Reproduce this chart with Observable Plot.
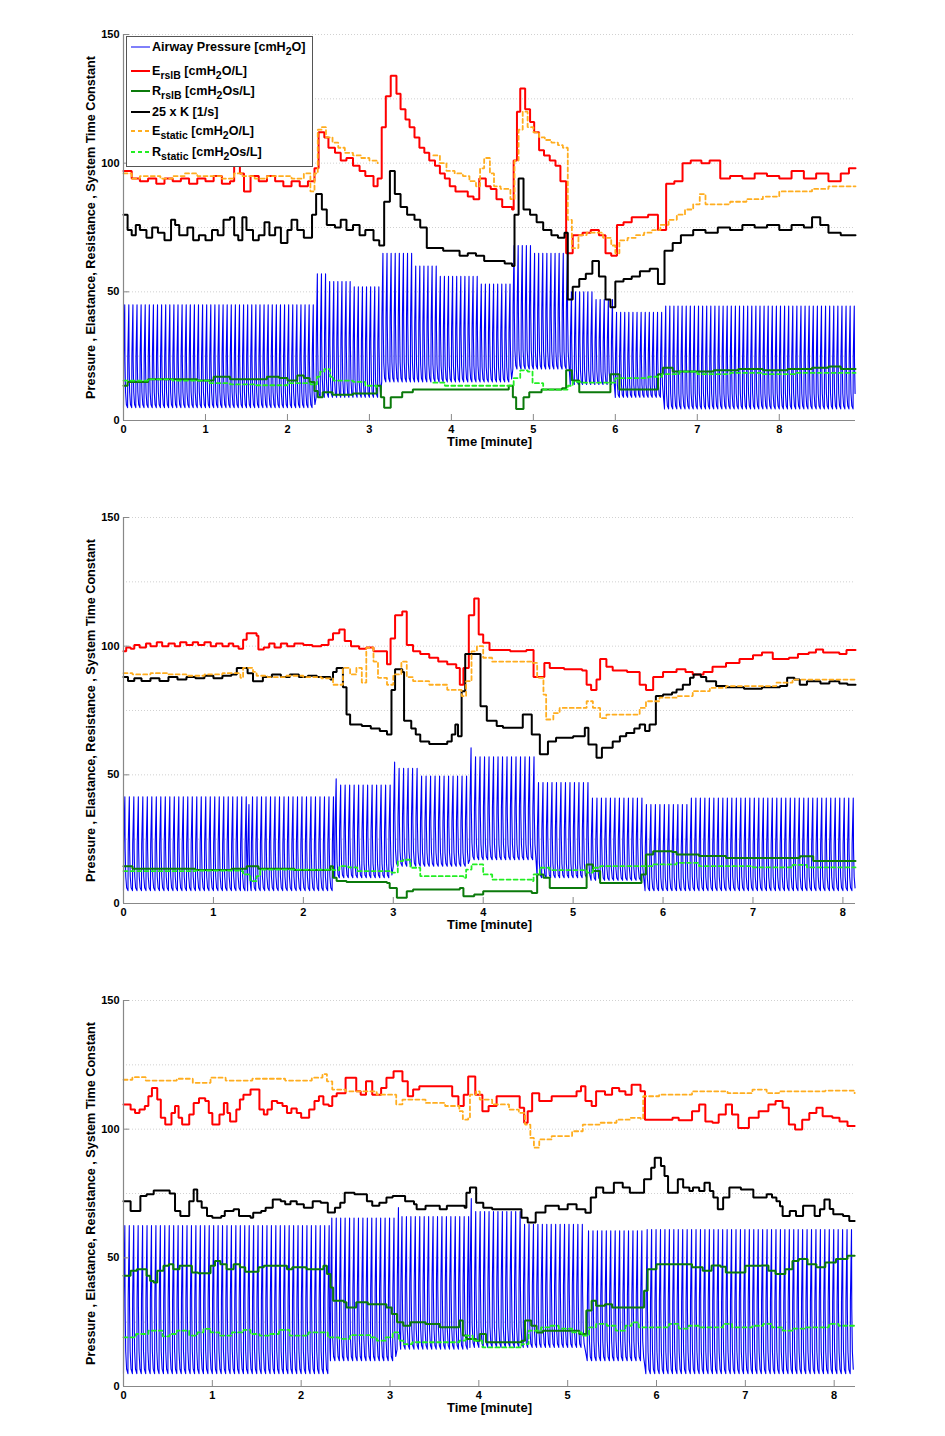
<!DOCTYPE html>
<html><head><meta charset="utf-8">
<script src="https://cdn.jsdelivr.net/npm/d3@7"></script>
<script src="https://cdn.jsdelivr.net/npm/@observablehq/plot@0.6"></script>
<style>
body{margin:0;background:#fff;font-family:"Liberation Sans",Arial,sans-serif;}
#wrap{position:relative;width:945px;}
#wrap svg{display:block;}
#legend{position:absolute;left:126px;top:36px;width:187px;height:131px;border:1px solid #555;background:#fff;box-sizing:border-box;font-weight:bold;font-size:12.6px;color:#000;}
.entry{position:absolute;left:0;height:16px;width:184px;}
.entry svg{position:absolute;left:3px;top:0;}
.entry span{position:absolute;left:25px;top:0;white-space:nowrap;line-height:16px;}
.entry sub{font-size:10.5px;vertical-align:-4px;line-height:0;}
</style></head><body><div id="wrap"></div>
<script>
// ---------- Panel 1 ----------
const p1_xmax = 8.93;
const p1_pressure = [ // [start, end, PEEP, peak]
 [0,2.35,5,45],[2.35,2.5,9,57],[2.5,2.8,9,54],[2.8,3.15,9,52],
 [3.15,3.55,15,65],[3.55,3.85,15,60],[3.85,4.35,15,56],[4.35,4.75,15,53],
 [4.75,5.0,20,68],[5.0,5.45,20,65],[5.45,5.75,14,50],[5.75,6.0,14,47],
 [6.0,6.6,9,42],[6.6,8.93,4.5,44.5]];
const p1_E = [[0,97],[0.1,94],[0.2,93],[0.3,94],[0.4,92],[0.5,94],[0.6,93],[0.7,94],[0.8,92],[0.9,94],[1.0,93],[1.1,95],[1.2,92],[1.3,93],[1.35,99],[1.42,96],[1.47,89],[1.55,95],[1.65,93],[1.75,95],[1.85,93],[1.95,91],[2.05,93],[2.15,91],[2.25,93],[2.33,98],[2.38,112],[2.45,110],[2.5,106],[2.58,104],[2.65,101],[2.72,102],[2.8,99],[2.88,97],[2.95,95],[3.05,91],[3.1,94],[3.15,114],[3.2,126],[3.26,134],[3.33,127],[3.38,121],[3.44,117],[3.49,114],[3.55,110],[3.61,106],[3.67,104],[3.73,101],[3.8,99],[3.86,96],[3.92,94],[3.98,91],[4.05,89],[4.12,89],[4.2,87],[4.27,86],[4.34,94],[4.42,91],[4.48,90],[4.55,86],[4.62,83],[4.68,83],[4.74,82],[4.76,101],[4.8,120],[4.84,129],[4.9,121],[4.96,116],[5.01,112],[5.07,105],[5.13,103],[5.2,101],[5.27,99],[5.33,93],[5.4,65],[5.48,72],[5.6,73],[5.7,74],[5.8,72],[5.88,65],[5.95,64],[6.02,76],[6.1,77],[6.2,79],[6.3,79],[6.4,80],[6.52,74],[6.62,92],[6.72,93],[6.82,100],[6.92,101],[7.05,100],[7.15,101],[7.28,94],[7.4,95],[7.55,94],[7.7,96],[7.85,95],[8.0,94],[8.15,97],[8.3,94],[8.45,96],[8.6,93],[8.75,96],[8.85,98],[8.93,98]];
const p1_R = [[0,13.5],[0.05,15],[0.3,16],[0.6,16],[0.9,15.5],[1.1,17],[1.3,16],[1.5,16],[1.75,17],[1.9,16.5],[2.0,15.5],[2.12,17.5],[2.2,16.5],[2.27,15],[2.33,11.5],[2.37,9],[2.43,11],[2.55,10],[2.8,10.5],[3.0,10.5],[3.09,13.5],[3.14,9],[3.18,5],[3.26,9],[3.4,11],[3.53,12],[4.0,12],[4.35,12],[4.7,13.5],[4.75,9],[4.79,4.5],[4.88,9],[4.95,11],[5.1,12],[5.35,12.5],[5.4,19.5],[5.47,15.5],[5.56,11],[5.92,11],[5.94,18],[6.05,12],[6.5,12],[6.52,18],[6.58,20.5],[6.7,19],[6.9,19],[7.2,19.5],[7.5,20],[7.8,19.5],[8.1,20],[8.4,20.5],[8.6,21],[8.75,20],[8.93,20]];
const p1_K = [[0,80],[0.05,74],[0.1,72],[0.15,76],[0.2,74],[0.28,71],[0.35,75],[0.42,73],[0.5,70],[0.58,78],[0.63,76],[0.68,72],[0.78,75],[0.85,70],[0.92,72],[1.0,70],[1.08,74],[1.15,72],[1.22,78],[1.3,79],[1.35,72],[1.4,70],[1.45,79],[1.5,74],[1.58,70],[1.65,72],[1.72,77],[1.78,72],[1.85,75],[1.92,69],[2.0,74],[2.05,78],[2.12,74],[2.2,71],[2.3,80],[2.35,88],[2.42,82],[2.48,76],[2.58,75],[2.65,78],[2.72,74],[2.8,76],[2.88,72],[2.95,74],[3.05,70],[3.12,68],[3.18,85],[3.25,97],[3.31,88],[3.38,83],[3.46,80],[3.55,78],[3.62,75],[3.7,67],[3.8,67],[3.9,66],[4.0,66],[4.1,64],[4.2,65],[4.3,64],[4.4,62],[4.55,62],[4.65,61],[4.74,60],[4.77,80],[4.82,94],[4.88,82],[4.96,80],[5.04,77],[5.12,74],[5.22,72],[5.3,71],[5.38,73],[5.42,47],[5.48,52],[5.56,55],[5.64,57],[5.72,62],[5.8,56],[5.88,47],[5.94,44],[6.0,54],[6.1,55],[6.2,56],[6.3,58],[6.42,59],[6.52,53],[6.6,66],[6.7,69],[6.8,72],[6.95,74],[7.1,73],[7.25,75],[7.4,74],[7.55,76],[7.7,75],[7.85,76],[8.0,74],[8.15,76],[8.3,75],[8.4,79],[8.5,76],[8.6,73],[8.75,72],[8.93,72]];
const p1_Es = [[0,96],[0.1,94],[0.2,95],[0.3,95],[0.45,94],[0.6,95],[0.75,96],[0.9,95],[1.05,95],[1.2,94],[1.35,96],[1.45,95],[1.6,94],[1.75,95],[1.9,95],[2.05,94],[2.2,96],[2.28,89],[2.33,96],[2.37,113],[2.42,114],[2.47,110],[2.55,108],[2.62,106],[2.7,104],[2.8,103],[2.9,102],[3.0,101],[3.1,100],[3.15,null],[3.78,103],[3.86,100],[3.94,97],[4.04,96],[4.14,95],[4.22,93],[4.3,91],[4.35,98],[4.4,102],[4.47,96],[4.52,91],[4.6,90],[4.7,90],[4.72,86],[4.77,101],[4.82,113],[4.87,120],[4.93,114],[5.0,112],[5.07,110],[5.14,109],[5.22,108],[5.3,107],[5.36,106],[5.42,78],[5.47,67],[5.55,72],[5.65,73],[5.75,73],[5.85,71],[5.95,68],[6.0,65],[6.05,70],[6.15,71],[6.25,72],[6.35,73],[6.45,74],[6.55,76],[6.65,78],[6.75,80],[6.85,82],[6.95,84],[7.03,88],[7.1,84],[7.25,84],[7.4,85],[7.6,86],[7.8,87],[8.0,89],[8.2,89],[8.4,90],[8.6,91],[8.8,91],[8.93,91]];
const p1_Rs = [[0,15.5],[0.3,16],[0.6,15.5],[1.05,14.5],[1.3,14],[1.6,13.7],[2.0,14.5],[2.28,14],[2.36,17],[2.4,19],[2.45,20],[2.52,17],[2.56,15.5],[2.8,15],[2.95,13.5],[3.09,13],[3.15,null],[3.78,14.7],[3.92,13.5],[4.72,13.5],[4.76,16.5],[4.84,19.5],[4.93,19],[4.99,14.5],[5.12,12],[5.37,12],[5.42,13.5],[5.48,15],[5.6,14.7],[5.92,14.7],[6.0,16.5],[6.3,16.5],[6.4,17],[6.57,18],[6.78,19],[7.0,18],[7.4,18.5],[7.8,18],[8.2,18.5],[8.6,18.5],[8.93,18.5]];

// ---------- Panel 2 ----------
const p2_xmax = 8.14;
const p2_pressure = [
 [0,1.38,5,41.5],[1.38,1.42,5,38.5],[1.42,2.35,5,41.5],[2.35,2.4,10,48.5],[2.4,3.0,10,46],
 [3.0,3.05,14.5,55],[3.05,3.3,14.5,52.5],[3.3,3.85,14.5,49.5],[3.85,3.9,17,60.5],[3.9,4.6,17,57],
 [4.6,5.2,10,47],[5.2,5.8,9,41],[5.8,6.3,5,38.5],[6.3,8.14,5,41]];
const p2_E = [[0,98],[0.03,99.5],[0.08,99],[0.12,100.5],[0.18,99.5],[0.25,101],[0.3,100],[0.37,101.5],[0.43,100],[0.5,101],[0.57,100],[0.63,101.5],[0.7,100.5],[0.77,101.5],[0.83,100.5],[0.9,101.5],[0.97,100],[1.03,101],[1.1,100],[1.17,101],[1.22,100],[1.28,99],[1.33,102.5],[1.37,105],[1.48,104],[1.5,98.7],[1.56,99.5],[1.62,101],[1.68,99.5],[1.75,101],[1.82,100],[1.9,101],[2.0,100.5],[2.1,100],[2.2,100.5],[2.28,102.5],[2.33,105],[2.4,106.5],[2.46,102],[2.53,100],[2.62,99],[2.7,99.5],[2.78,98],[2.93,93],[2.97,103],[3.02,112],[3.1,113.5],[3.15,100.5],[3.22,98],[3.3,97],[3.4,95.5],[3.5,94],[3.6,93],[3.7,91.5],[3.74,85],[3.78,91.5],[3.84,112],[3.9,118.5],[3.95,104.5],[4.0,101.3],[4.07,98.5],[4.3,98],[4.48,98.5],[4.56,88],[4.68,93.5],[4.74,91.5],[4.9,91],[5.1,90.5],[5.15,85],[5.2,83],[5.26,87],[5.3,95],[5.37,92],[5.44,90.5],[5.6,90],[5.74,85],[5.81,83],[5.89,88],[6.0,90],[6.15,91],[6.25,90],[6.33,89],[6.45,90],[6.55,92],[6.7,93.5],[6.85,95],[7.0,96.5],[7.1,97.5],[7.22,95],[7.4,95.5],[7.5,97],[7.62,97.5],[7.7,98.7],[7.78,97.5],[7.96,97],[8.04,98.5],[8.14,98.5]];
const p2_R = [[0,14.5],[0.1,13.5],[0.4,13.5],[0.8,13],[1.2,13.5],[1.37,14.5],[1.5,13.5],[1.9,13],[2.3,14.5],[2.33,10],[2.37,8.7],[2.48,8.4],[2.93,8],[2.96,6],[3.04,2.2],[3.15,4.8],[3.22,5.4],[3.74,6],[3.78,2.8],[3.9,3.5],[4.0,4.8],[4.54,4.1],[4.6,11.3],[4.67,10],[4.74,6],[5.13,6],[5.15,15.2],[5.22,12.6],[5.3,8],[5.74,8],[5.76,11.3],[5.81,19],[5.89,20.3],[6.1,20],[6.15,19],[6.4,18.5],[6.7,17.7],[7.44,17.7],[7.52,18.4],[7.67,16.5],[8.14,16.5]];
const p2_K = [[0,88],[0.05,86.5],[0.12,87.5],[0.2,86.5],[0.3,87.5],[0.4,86.5],[0.5,88],[0.6,87],[0.7,88],[0.8,87.5],[0.9,88.5],[1.0,87.5],[1.1,88.5],[1.2,89],[1.26,91.5],[1.38,89.5],[1.44,86.4],[1.55,88],[1.65,89],[1.75,88],[1.85,89],[1.95,88],[2.05,88.5],[2.15,88],[2.3,87],[2.33,90],[2.37,91.5],[2.44,84],[2.48,73.4],[2.52,69.6],[2.65,69],[2.75,68],[2.85,67],[2.93,65.7],[2.98,83],[3.02,91],[3.1,90],[3.12,71],[3.2,68],[3.25,65.7],[3.3,63],[3.4,62],[3.57,62],[3.6,63],[3.65,65.7],[3.69,69.6],[3.72,65],[3.76,82.5],[3.8,97],[3.95,97],[3.97,76.7],[4.04,71],[4.15,69],[4.22,68.3],[4.44,73.4],[4.54,65.7],[4.63,58],[4.72,63],[4.81,64.4],[5.0,65],[5.13,68.3],[5.17,61.8],[5.26,56.6],[5.32,60.5],[5.44,63],[5.52,65],[5.59,66.3],[5.68,68],[5.74,69.6],[5.8,67],[5.85,69.6],[5.92,80.6],[6.0,81.2],[6.1,82],[6.15,83.2],[6.22,85],[6.3,87.7],[6.34,89],[6.42,88],[6.48,86.4],[6.59,84.5],[6.7,84],[6.9,83.5],[7.1,84],[7.3,84.5],[7.38,87.7],[7.46,87],[7.52,85],[7.6,86.4],[7.75,85.5],[7.85,86.4],[7.96,85.5],[8.05,85],[8.14,85]];
const p2_Es = [[0,89.5],[0.1,89],[0.3,89.5],[0.5,89],[0.7,88.5],[0.9,89],[1.1,89.5],[1.3,87.7],[1.33,91.6],[1.44,90],[1.48,88.5],[1.6,88],[1.8,88.5],[2.0,88],[2.2,87.5],[2.33,85],[2.44,91.6],[2.52,89],[2.59,91.6],[2.65,85.8],[2.7,99.4],[2.78,94],[2.83,87.7],[2.93,85],[3.0,89],[3.09,94],[3.15,88],[3.22,86.4],[3.4,85],[3.6,83],[3.72,83],[3.76,80.6],[3.81,86.4],[3.87,98],[3.93,100],[4.0,95.5],[4.1,94],[4.48,94],[4.54,93.5],[4.6,87.7],[4.67,81.2],[4.7,71.5],[4.78,74],[4.85,76],[5.11,76],[5.15,78.6],[5.22,76],[5.3,72],[5.37,73.4],[5.67,73.4],[5.74,76],[5.81,78.6],[5.96,80],[6.15,80.6],[6.33,82.5],[6.52,83.8],[6.7,84.5],[7.07,84.5],[7.26,85.8],[7.44,87],[8.0,87],[8.14,86.5]];
const p2_Rs = [[0,12.6],[0.4,12.6],[0.8,12.8],[1.3,12.6],[1.33,11.3],[1.41,8.7],[1.48,10.6],[1.52,13.2],[2.33,13],[2.4,14.5],[2.5,14],[2.6,12.6],[2.98,12],[3.05,16.5],[3.11,17],[3.19,13.9],[3.3,10.6],[3.78,10],[3.81,13.2],[3.87,15.2],[4.0,11.3],[4.1,9.3],[4.54,8.7],[4.56,11.3],[4.63,13.9],[4.74,13],[5.1,13],[5.15,12],[5.22,13.9],[5.3,14.5],[5.8,14.5],[5.89,15.2],[6.15,15.8],[6.4,14.5],[7.0,14],[7.44,15],[7.6,14],[8.14,14]];

// ---------- Panel 3 ----------
const p3_xmax = 8.24;
const p3_pressure = [
 [0,2.33,5,62.5],[2.33,3.08,10,65.5],[3.08,3.12,14.5,69.5],[3.12,3.9,14.5,66],
 [3.9,3.95,15.2,73],[3.95,4.5,15.2,68],[4.5,5.22,15.2,63],[5.22,5.88,10,60.5],[5.88,8.24,5,61]];
const p3_E = [[0,109.6],[0.08,107.6],[0.13,106.3],[0.18,107.6],[0.24,109],[0.28,112.8],[0.32,116],[0.38,111.5],[0.42,104.4],[0.47,101.8],[0.54,106.3],[0.58,109],[0.62,104.4],[0.66,101.8],[0.74,105.7],[0.79,110.2],[0.85,112],[0.92,110.9],[0.96,106.3],[1.0,101.8],[1.08,105.7],[1.13,110.2],[1.17,106.3],[1.2,103],[1.27,107.6],[1.31,111.5],[1.35,113.4],[1.43,115.4],[1.53,107.6],[1.58,105.7],[1.62,107.6],[1.67,110.9],[1.73,110.2],[1.79,109],[1.84,106.3],[1.89,108],[1.95,106.3],[2.0,104.4],[2.09,107.6],[2.15,110.9],[2.2,112.8],[2.25,109.6],[2.31,109],[2.35,112.8],[2.4,114],[2.5,120],[2.62,114.7],[2.67,113.4],[2.73,118.6],[2.8,113.4],[2.9,116],[2.96,120],[3.04,122.5],[3.14,118.6],[3.2,112.8],[3.26,115.4],[3.33,116.7],[3.6,116.7],[3.7,112.8],[3.77,109],[3.83,113.4],[3.88,120.5],[3.96,113.4],[4.04,107],[4.11,109],[4.2,112.8],[4.42,112.8],[4.46,108.3],[4.51,102.5],[4.55,107],[4.6,114],[4.68,110.9],[4.82,112.8],[5.1,114.7],[5.15,116.7],[5.2,110.9],[5.27,109],[5.32,114.7],[5.42,113.4],[5.5,116],[5.58,114.7],[5.65,113.4],[5.72,117.3],[5.82,114.7],[5.87,103.7],[6.18,104.4],[6.25,103.5],[6.4,107],[6.48,109.6],[6.55,103],[6.63,102.5],[6.7,105.7],[6.78,109.6],[6.85,105.7],[6.92,100.5],[7.04,104.4],[7.15,107],[7.26,109.6],[7.34,110.9],[7.42,108.3],[7.49,101.8],[7.56,99.9],[7.64,103.7],[7.72,106.3],[7.8,108.3],[7.87,105],[7.98,104.4],[8.06,103],[8.15,101.2],[8.23,101.2]];
const p3_R = [[0,43],[0.08,45],[0.15,45.6],[0.26,43],[0.3,41],[0.34,40.4],[0.38,45],[0.45,46.9],[0.51,47.5],[0.56,45.6],[0.63,46.9],[0.77,44.3],[0.84,44],[0.98,46.9],[1.03,48.8],[1.09,47.5],[1.16,45.6],[1.24,47.5],[1.31,46.3],[1.37,44.6],[1.52,46.3],[1.58,46.9],[1.84,45.6],[1.9,46.3],[2.06,45.6],[2.25,46.9],[2.29,43.7],[2.33,38.5],[2.36,33.3],[2.48,32.7],[2.51,30.7],[2.62,32.7],[2.75,32],[2.96,30.7],[3.02,28.2],[3.08,25],[3.15,23.6],[3.23,25],[3.4,24.3],[3.56,23],[3.78,25.6],[3.82,19.8],[3.86,18.5],[3.97,17.8],[4.01,20.4],[4.08,17.2],[4.48,17.8],[4.52,25.6],[4.59,23.6],[4.65,21],[4.72,21.7],[5.13,20.4],[5.21,29.5],[5.27,33.3],[5.32,31.4],[5.42,32],[5.5,30.7],[5.84,30.7],[5.86,37.2],[5.9,45.6],[6.0,47.5],[6.4,46.3],[6.52,45],[6.62,47],[6.72,46.5],[6.78,44.3],[7.0,46.9],[7.18,47],[7.26,45],[7.34,43.7],[7.45,45.6],[7.53,48.8],[7.6,49.5],[7.7,47.5],[7.8,46.3],[7.9,48.2],[8.02,49.5],[8.15,50.8],[8.23,50.8]];
const p3_K = [[0,72],[0.08,68.2],[0.19,74],[0.26,74.7],[0.34,76.2],[0.52,75],[0.58,68.2],[0.64,66.3],[0.74,72],[0.79,76.6],[0.83,72],[0.88,69.5],[0.94,66.3],[1.0,65.6],[1.1,66.3],[1.14,68.2],[1.24,68.9],[1.3,66.3],[1.43,65.6],[1.46,67.5],[1.55,68.2],[1.6,69.5],[1.68,72.7],[1.77,72],[1.82,70.8],[1.88,72],[1.95,70.8],[2.03,69.5],[2.13,72],[2.22,71.4],[2.3,67.6],[2.38,69.5],[2.44,71.4],[2.49,75.3],[2.6,74.7],[2.74,72],[2.8,70.2],[2.88,71.4],[2.96,73.4],[3.03,74],[3.17,72],[3.27,70.8],[3.3,68.9],[3.4,70.2],[3.56,68.9],[3.64,70.2],[3.84,69.5],[3.86,75.3],[3.9,77.3],[3.97,71.4],[4.05,69.5],[4.15,68.9],[4.48,65.6],[4.55,63.7],[4.64,67.6],[4.75,70.2],[4.9,68.9],[5.0,70.8],[5.1,68.9],[5.2,67.5],[5.26,73.4],[5.32,77.3],[5.4,75.3],[5.52,79.2],[5.62,77.3],[5.7,75.3],[5.86,80.5],[5.94,85],[5.98,88.9],[6.05,85.7],[6.09,81.8],[6.13,75.3],[6.24,80.5],[6.3,77.3],[6.37,76],[6.41,77.3],[6.48,76],[6.54,79.2],[6.6,76],[6.64,73.4],[6.69,68.9],[6.75,73.4],[6.82,77.3],[6.95,76.6],[7.09,73.4],[7.24,74.7],[7.3,73.4],[7.35,72],[7.39,70],[7.42,66.3],[7.5,68.2],[7.57,66.3],[7.65,70.2],[7.78,66.3],[7.84,68.9],[7.89,72.7],[7.95,69],[7.99,66.9],[8.1,66.3],[8.17,64.3],[8.23,64.3]];
const p3_Es = [[0,119.2],[0.1,120.2],[0.25,118.9],[0.6,119.6],[0.78,118],[0.98,120],[1.15,118.9],[1.45,119.6],[1.82,118.9],[2.12,120],[2.24,121.4],[2.29,118.6],[2.35,115.4],[2.5,114.7],[2.85,113.4],[3.07,109.6],[3.14,111.5],[3.4,110.2],[3.62,109],[3.78,107],[3.82,103.7],[3.88,104.4],[3.9,113.4],[3.97,114.7],[4.01,111.5],[4.15,109.6],[4.34,107.6],[4.45,106.3],[4.52,101.8],[4.58,96.6],[4.62,92.8],[4.68,96],[4.82,97.3],[5.05,99.2],[5.17,101.8],[5.36,102.5],[5.55,103.7],[5.7,104.4],[5.82,104],[5.85,112.8],[6.03,113.4],[6.4,114.7],[6.8,114],[7.08,115.4],[7.24,114],[7.38,114.7],[7.9,115],[8.23,114]];
const p3_Rs = [[0,19.1],[0.14,20.4],[0.28,21.7],[0.44,19.5],[0.52,20.4],[0.6,21.7],[0.74,19.8],[0.83,21],[0.9,22.4],[0.98,21],[1.08,19.8],[1.22,21],[1.35,22],[1.43,20.4],[1.53,19.8],[1.64,20.4],[1.75,22],[1.87,19.8],[2.08,21],[2.3,19.1],[2.43,18.5],[2.55,20],[2.78,19.1],[2.85,17.8],[2.95,19.1],[3.03,21],[3.1,17.8],[3.15,16.5],[3.25,17.2],[3.78,17.8],[3.85,19.8],[3.93,17.8],[4.04,15.2],[4.48,16.5],[4.56,21.7],[4.7,23],[4.8,23.6],[4.9,22.5],[5.05,21],[5.16,19.8],[5.24,23],[5.32,24.3],[5.44,23.6],[5.54,21.7],[5.65,23.6],[5.72,24.9],[5.8,23],[6.14,24.3],[6.25,22.5],[6.36,23.6],[6.48,23],[6.75,24.3],[6.85,23],[7.08,23.6],[7.2,24.3],[7.3,23],[7.42,21.7],[7.54,22.5],[7.68,23],[7.94,24.3],[8.05,23.6],[8.23,23]];

// ---------- shared labels ----------
const breathPeriod = 0.05; // minutes (20 breaths/min)
const yTicks = [0, 50, 100, 150];
const yGrid = [25, 50, 75, 100, 125, 150];
const xTicks = [0, 1, 2, 3, 4, 5, 6, 7, 8];
const yLabel = "Pressure , Elastance, Resistance , System Time Constant";
const xLabel = "Time [minute]";

const C = {P:"#0000f5", E:"#ff0000", R:"#0b7a0b", K:"#000000", Es:"#ffad1f", Rs:"#22ee22"};

// breath waveform shape: [phase fraction, fraction of (peak-PEEP)]
const shape = [[0,0],[0.05,0.5],[0.3,1],[0.36,0.45],[0.5,0.15],[0.7,0.03]];
function buildWave(segs){
  const pts = [];
  for (const [t0,t1,peep,peak] of segs){
    const n = Math.max(1, Math.round((t1 - t0) / breathPeriod));
    for (let k = 0; k < n; k++){
      const t = t0 + k * breathPeriod;
      for (const [f,a] of shape){
        const tt = t + f * breathPeriod;
        if (tt > t1 + 1e-9) break;
        pts.push({t: tt, p: peep + a * (peak - peep)});
      }
    }
  }
  return pts;
}

const W = 945, mL = 123, mR = 90, mT = 34, plotH = 386;
function panel({xmax, height, pressure, E, R, K, Es, Rs}){
  const wave = buildWave(pressure);
  const tickLenY = 150 * 6 / plotH;
  const tickLenX = xmax * 6 / (W - mL - mR);
  const step = (data, stroke, w, dash) => Plot.line(data, {
    x: d => d[0], y: d => d[1], curve: "step-after", stroke, strokeWidth: w,
    strokeDasharray: dash, strokeLinejoin: "miter"});
  return Plot.plot({
    width: W, height, marginLeft: mL, marginRight: mR, marginTop: mT,
    marginBottom: height - mT - plotH,
    x: {domain: [0, xmax]}, y: {domain: [0, 150]},
    style: {fontFamily: "'Liberation Sans', Arial, sans-serif", fontSize: "12px", fontWeight: "bold", color: "#000", background: "#fff", overflow: "visible"},
    marks: [
      Plot.gridY(yGrid, {stroke: "#999", strokeOpacity: 0.45, strokeDasharray: "1,2"}),
      Plot.line(wave, {x: "t", y: "p", stroke: C.P, strokeWidth: 1.1}),
      step(E, C.E, 2),
      step(R, C.R, 2),
      step(K, C.K, 2),
      step(Es, C.Es, 1.8, "4,3"),
      step(Rs, C.Rs, 1.8, "4,3"),
      Plot.ruleY([0], {stroke: "#888", strokeWidth: 1.2}),
      Plot.ruleX([0], {stroke: "#888", strokeWidth: 1.2}),
      Plot.ruleX(xTicks, {x: d => d, y1: 0, y2: tickLenY, stroke: "#888"}),
      Plot.ruleY(yTicks.slice(1), {y: d => d, x1: 0, x2: tickLenX, stroke: "#888"}),
      Plot.axisX(xTicks, {tickSize: 0, tickPadding: 5, label: null, fontSize: 11}),
      Plot.axisY(yTicks, {tickSize: 0, tickPadding: 4, label: null, fontSize: 11}),
      Plot.text([xLabel], {frameAnchor: "bottom", lineAnchor: "middle", textAnchor: "middle", dy: 21, fontSize: 13}),
      Plot.text([yLabel], {frameAnchor: "left", lineAnchor: "middle", textAnchor: "middle", rotate: -90, dx: -33, fontSize: 12.6})
    ]
  });
}

const wrap = document.getElementById("wrap");
wrap.append(panel({xmax: p1_xmax, height: 483, pressure: p1_pressure, E: p1_E, R: p1_R, K: p1_K, Es: p1_Es, Rs: p1_Rs}));
wrap.append(panel({xmax: p2_xmax, height: 483, pressure: p2_pressure, E: p2_E, R: p2_R, K: p2_K, Es: p2_Es, Rs: p2_Rs}));
wrap.append(panel({xmax: p3_xmax, height: 470, pressure: p3_pressure, E: p3_E, R: p3_R, K: p3_K, Es: p3_Es, Rs: p3_Rs}));

// legend (panel 1)
const legendItems = [
  {html: "Airway Pressure [cmH<sub>2</sub>O]", color: C.P, w: 1, dash: null, y: 10},
  {html: "E<sub>rslB</sub> [cmH<sub>2</sub>O/L]", color: C.E, w: 2, dash: null, y: 34},
  {html: "R<sub>rslB</sub> [cmH<sub>2</sub>Os/L]", color: C.R, w: 2, dash: null, y: 54},
  {html: "25 x K [1/s]", color: C.K, w: 2, dash: null, y: 75},
  {html: "E<sub>static</sub> [cmH<sub>2</sub>O/L]", color: C.Es, w: 1.8, dash: "4,3", y: 94},
  {html: "R<sub>static</sub> [cmH<sub>2</sub>Os/L]", color: C.Rs, w: 1.8, dash: "4,3", y: 115}
];
const lg = document.createElement("div");
lg.id = "legend";
for (const it of legendItems){
  const e = document.createElement("div");
  e.className = "entry";
  e.style.top = (it.y - 8) + "px";
  e.innerHTML = `<svg width="20" height="16"><line x1="1" x2="20" y1="8" y2="8" stroke="${it.color}" stroke-width="${it.w}" ${it.dash ? `stroke-dasharray="${it.dash}"` : ""}/></svg><span>${it.html}</span>`;
  lg.append(e);
}
wrap.append(lg);
</script></body></html>
